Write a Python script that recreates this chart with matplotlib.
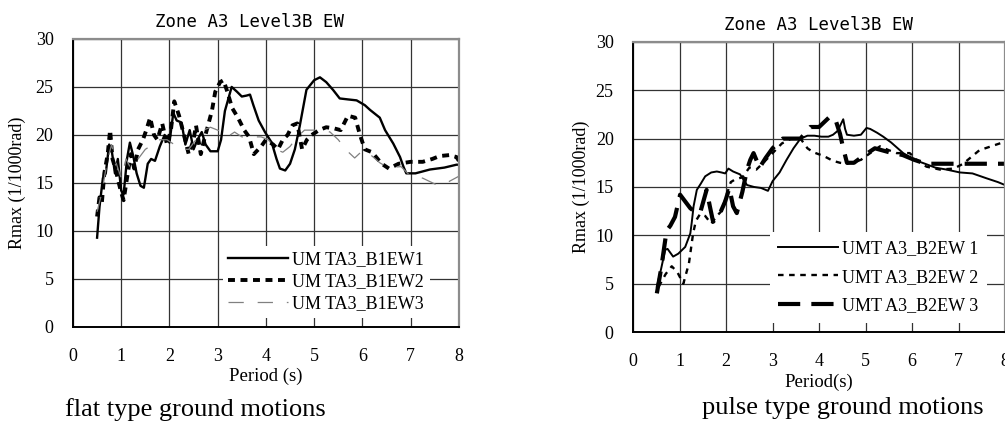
import numpy as np
import matplotlib.pyplot as plt

plt.rcParams["lines.scale_dashes"] = False

# flat type ground motions, (period, Rmax) pairs
flat_ew1 = [(0.50, 9.3), (0.55, 12.5), (0.62, 15.5), (0.68, 16.0), (0.75, 19.0), (0.80, 18.5),
            (0.87, 16.0), (0.93, 17.5), (1.00, 14.2), (1.05, 13.8), (1.12, 17.5), (1.18, 19.2),
            (1.25, 17.8), (1.32, 16.0), (1.40, 14.7), (1.47, 14.5), (1.55, 17.0), (1.62, 17.5),
            (1.70, 17.3), (1.80, 18.8), (1.90, 20.0), (2.00, 19.2), (2.08, 22.3), (2.15, 21.5),
            (2.25, 21.3), (2.33, 19.0), (2.42, 20.5), (2.50, 18.5), (2.58, 19.5), (2.67, 20.3),
            (2.75, 19.0), (2.85, 18.3), (3.00, 18.3), (3.07, 19.5), (3.15, 22.5), (3.29, 25.0),
            (3.40, 24.5), (3.50, 24.0), (3.60, 24.1), (3.67, 24.2), (3.74, 23.1), (3.85, 21.5),
            (3.98, 20.3), (4.12, 19.2), (4.22, 17.5), (4.29, 16.5), (4.40, 16.3), (4.50, 17.0),
            (4.60, 18.5), (4.70, 20.9), (4.84, 24.7), (5.00, 25.7), (5.12, 26.0), (5.25, 25.5),
            (5.39, 24.7), (5.53, 23.8), (5.70, 23.7), (5.88, 23.6), (6.05, 23.1), (6.16, 22.6),
            (6.36, 21.8), (6.47, 20.5), (6.64, 19.1), (6.78, 17.7), (6.85, 16.7), (6.91, 16.0),
            (7.10, 16.0), (7.40, 16.4), (7.70, 16.6), (7.95, 16.9), (8.00, 16.9)]
flat_ew2 = [(0.50, 11.5), (0.55, 13.5), (0.60, 13.0), (0.65, 16.0), (0.72, 18.0), (0.77, 20.5),
            (0.82, 17.5), (0.88, 16.5), (0.95, 15.0), (1.00, 14.0), (1.05, 13.2), (1.12, 15.5),
            (1.20, 18.0), (1.27, 16.5), (1.35, 18.5), (1.45, 19.5), (1.52, 20.5), (1.60, 21.8),
            (1.68, 20.0), (1.75, 19.5), (1.85, 21.2), (1.95, 19.0), (2.03, 20.5), (2.10, 23.5),
            (2.20, 22.0), (2.30, 20.0), (2.40, 18.0), (2.50, 19.5), (2.55, 21.0), (2.65, 18.0),
            (2.72, 19.5), (2.80, 21.0), (2.88, 22.5), (2.95, 24.5), (3.05, 25.5), (3.12, 25.7),
            (3.20, 24.5), (3.30, 22.8), (3.42, 21.8), (3.55, 20.5), (3.65, 19.8), (3.75, 18.0),
            (3.90, 18.8), (4.00, 19.5), (4.15, 19.0), (4.25, 18.5), (4.35, 19.5), (4.45, 20.0),
            (4.55, 21.0), (4.65, 21.2), (4.75, 18.5), (4.85, 19.5), (4.95, 20.0), (5.10, 20.5),
            (5.25, 20.8), (5.40, 20.7), (5.55, 20.5), (5.70, 22.0), (5.85, 21.8), (5.95, 20.0),
            (6.05, 18.5), (6.20, 18.2), (6.40, 17.0), (6.55, 16.5), (6.75, 17.0), (7.00, 17.2),
            (7.25, 17.2), (7.45, 17.5), (7.60, 17.8), (7.80, 17.9), (7.95, 17.7), (8.00, 17.3)]
flat_ew3 = [(0.50, 12.0), (0.60, 14.0), (0.70, 17.0), (0.80, 19.0), (0.90, 17.0), (1.00, 15.5),
            (1.10, 17.5), (1.20, 16.5), (1.35, 17.5), (1.50, 18.5), (1.65, 19.0), (1.80, 19.5),
            (1.95, 19.5), (2.10, 19.0), (2.25, 18.5), (2.40, 18.5), (2.55, 19.5), (2.70, 20.5),
            (2.85, 20.8), (3.00, 20.5), (3.10, 20.3), (3.20, 19.8), (3.35, 20.3), (3.50, 19.8),
            (3.70, 19.8), (3.90, 19.8), (4.05, 19.5), (4.20, 18.5), (4.35, 18.2), (4.50, 18.8),
            (4.65, 19.8), (4.80, 20.5), (5.00, 20.5), (5.20, 20.5), (5.33, 20.3), (5.50, 19.5),
            (5.67, 18.4), (5.84, 17.6), (6.01, 18.4), (6.20, 17.8), (6.36, 17.1), (6.53, 16.6),
            (6.80, 16.7), (6.98, 15.8), (7.25, 15.5), (7.54, 14.8), (7.74, 15.0), (8.00, 15.7)]

# pulse type ground motions
pulse_ew1 = [(0.51, 4.7), (0.60, 6.5), (0.69, 8.5), (0.74, 8.6), (0.86, 7.8), (0.97, 8.1),
             (1.12, 8.8), (1.23, 10.2), (1.26, 11.3), (1.30, 13.0), (1.37, 14.7), (1.45, 15.3),
             (1.55, 16.1), (1.68, 16.5), (1.80, 16.6), (1.90, 16.5), (1.98, 16.4), (2.05, 16.9),
             (2.15, 16.6), (2.30, 16.3), (2.45, 15.2), (2.60, 15.0), (2.75, 14.9), (2.90, 14.6),
             (3.00, 15.6), (3.15, 16.5), (3.30, 17.8), (3.45, 19.0), (3.60, 20.0), (3.75, 20.3),
             (3.90, 20.3), (4.05, 20.2), (4.20, 20.2), (4.30, 20.4), (4.40, 20.8), (4.52, 22.0),
             (4.56, 21.0), (4.60, 20.4), (4.75, 20.3), (4.90, 20.4), (5.02, 21.1), (5.10, 21.0),
             (5.25, 20.6), (5.38, 20.2), (5.55, 19.6), (5.81, 18.5), (6.05, 17.8), (6.28, 17.4),
             (6.50, 17.0), (6.74, 16.8), (7.03, 16.5), (7.30, 16.4), (7.60, 15.9), (7.85, 15.5),
             (8.00, 15.2)]
pulse_ew2 = [(0.55, 4.7), (0.70, 6.0), (0.83, 6.8), (0.95, 6.2), (1.08, 5.0), (1.20, 7.1),
             (1.29, 10.2), (1.35, 11.5), (1.44, 12.2), (1.55, 12.0), (1.68, 11.2), (1.80, 12.0),
             (1.90, 12.5), (2.00, 14.0), (2.10, 15.5), (2.20, 15.8), (2.35, 16.0), (2.50, 17.0),
             (2.65, 16.8), (2.80, 17.5), (3.00, 18.5), (3.20, 19.5), (3.40, 20.0), (3.60, 20.0),
             (3.75, 19.0), (3.87, 18.6), (4.10, 18.2), (4.30, 17.7), (4.45, 17.5), (4.60, 17.4),
             (4.74, 17.6), (4.90, 17.8), (5.10, 18.5), (5.31, 19.2), (5.50, 18.8), (5.67, 18.5),
             (5.95, 18.5), (6.10, 17.8), (6.31, 17.1), (6.60, 16.8), (6.90, 16.9), (7.10, 17.4),
             (7.30, 18.2), (7.45, 18.8), (7.70, 19.2), (7.95, 19.6), (8.00, 19.7)]
pulse_ew3 = [(0.51, 4.0), (0.60, 6.5), (0.72, 10.5), (0.80, 11.0), (0.90, 11.9), (1.01, 14.2),
             (1.12, 13.5), (1.23, 12.8), (1.34, 12.4), (1.44, 12.3), (1.58, 14.7), (1.65, 13.0),
             (1.72, 11.4), (1.87, 12.3), (1.98, 13.5), (2.07, 14.9), (2.15, 13.0), (2.23, 12.3),
             (2.35, 14.5), (2.45, 16.8), (2.52, 17.8), (2.59, 18.5), (2.72, 17.0), (2.85, 18.0),
             (3.00, 19.0), (3.22, 20.0), (3.40, 20.0), (3.60, 20.0), (3.81, 21.2), (4.00, 21.2),
             (4.24, 22.3), (4.35, 22.0), (4.45, 20.5), (4.52, 19.0), (4.60, 17.5), (4.75, 17.5),
             (4.95, 18.2), (5.20, 19.0), (5.50, 18.6), (5.80, 18.3), (6.05, 17.8), (6.30, 17.4),
             (6.60, 17.4), (7.00, 17.4), (7.50, 17.4), (8.00, 17.4)]

flat_labels = ["UM TA3_B1EW1", "UM TA3_B1EW2", "UM TA3_B1EW3"]
pulse_labels = ["UMT A3_B2EW 1", "UMT A3_B2EW 2", "UMT A3_B2EW 3"]

serif = "Liberation Serif"
mono = "DejaVu Sans Mono"

fig = plt.figure(figsize=(10.05, 4.23), dpi=100)
ax1 = fig.add_axes([0.0726, 0.227, 0.384, 0.681])
ax2 = fig.add_axes([0.630, 0.215, 0.370, 0.686])


def style_axes(ax):
    ax.set_xlim(0, 8)
    ax.set_ylim(0, 30)
    ax.set_xticks(range(0, 9))
    ax.set_yticks(range(0, 31, 5))
    ax.grid(True, color="0.2", lw=0.9)
    ax.set_axisbelow(True)
    ax.tick_params(length=0, labelsize=13)
    ax.tick_params(axis="x", pad=15)
    ax.tick_params(axis="y", pad=14)
    for lab in ax.get_xticklabels() + ax.get_yticklabels():
        lab.set_fontfamily(serif)
    ax.spines["left"].set_linewidth(1.4)
    ax.spines["bottom"].set_linewidth(1.4)
    for s in ("top", "right"):
        ax.spines[s].set_color("0.55")
        ax.spines[s].set_linewidth(1.6)


def xy(pairs):
    a = np.array(pairs)
    return a[:, 0], a[:, 1]


# left panel
style_axes(ax1)
x, y = xy(flat_ew1)
ax1.plot(x, y, color="black", lw=1.7, label=flat_labels[0])
x, y = xy(flat_ew2)
ax1.plot(x, y, color="black", lw=2.8, dashes=(5, 4), label=flat_labels[1])
x, y = xy(flat_ew3)
ax1.plot(x, y, color="0.5", lw=0.9, dashes=(11, 10), label=flat_labels[2])
ax1.legend(loc="upper left", bbox_to_anchor=(0.388, 0.282), borderaxespad=0,
           frameon=True, fancybox=False, edgecolor="none", framealpha=1,
           handlelength=3.3, handletextpad=0.25, labelspacing=0.28, borderpad=0.3,
           prop={"family": serif, "size": 13})
ax1.set_ylabel("Rmax (1/1000rad)", family=serif, fontsize=13)
ax1.yaxis.set_label_coords(-0.122, 0.5)
ax1.set_xlabel("Period (s)", family=serif, fontsize=13.5, labelpad=2)

# right panel
style_axes(ax2)
x, y = xy(pulse_ew1)
ax2.plot(x, y, color="black", lw=1.4, label=pulse_labels[0])
x, y = xy(pulse_ew2)
ax2.plot(x, y, color="black", lw=1.7, dashes=(4, 4), label=pulse_labels[1])
x, y = xy(pulse_ew3)
ax2.plot(x, y, color="black", lw=3.0, dashes=(16, 8), label=pulse_labels[2])
ax2.legend(loc="upper left", bbox_to_anchor=(0.368, 0.345), borderaxespad=0,
           frameon=True, fancybox=False, edgecolor="none", framealpha=1,
           handlelength=3.3, handletextpad=0.25, labelspacing=0.65, borderpad=0.45,
           prop={"family": serif, "size": 13})
ax2.set_ylabel("Rmax (1/1000rad)", family=serif, fontsize=13)
ax2.yaxis.set_label_coords(-0.116, 0.5)
ax2.set_xlabel("Period(s)", family=serif, fontsize=13.5, labelpad=3)

# titles and captions
fig.text(249 / 1005, 1 - 22 / 423, "Zone A3 Level3B EW", family=mono, fontsize=12.5,
         ha="center", va="center")
fig.text(818 / 1005, 1 - 25 / 423, "Zone A3 Level3B EW", family=mono, fontsize=12.5,
         ha="center", va="center")
fig.text(65 / 1005, 1 - 410 / 423, "flat type ground motions", family=serif, fontsize=19,
         ha="left", va="center")
fig.text(702 / 1005, 1 - 408 / 423, "pulse type ground motions", family=serif, fontsize=19,
         ha="left", va="center")

fig.savefig("out.png", dpi=100)
